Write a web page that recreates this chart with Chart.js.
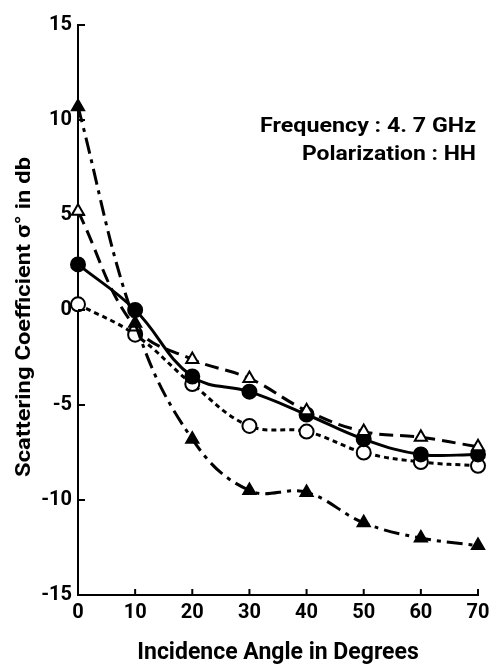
<!DOCTYPE html>
<html>
<head>
<meta charset="utf-8">
<script src="https://cdn.jsdelivr.net/npm/chart.js@4"></script>
<style>
  html, body { margin: 0; padding: 0; background: #fff; }
  #wrap { width: 489px; height: 672px; }
</style>
</head>
<body>
<div id="wrap"><canvas id="myChart" width="489" height="672"></canvas></div>
<script>
// values
const angles = [0, 10, 20, 30, 40, 50, 60, 70];
const filledTriangle = [10.7, -0.7, -6.8, -9.5, -9.6, -11.2, -12.0, -12.4];
const openTriangle = [5.2, -0.9, -2.6, -3.6, -5.3, -6.4, -6.7, -7.2];
const filledCircle = [2.4, 0.0, -3.5, -4.3, -5.5, -6.8, -7.6, -7.6];
const openCircle = [0.3, -1.3, -3.9, -6.1, -6.4, -7.5, -8.0, -8.2];
const yTicks = [15, 10, 5, 0, -5, -10, -15];
const infoLines = ['Frequency : 4. 7 GHz', 'Polarization : HH'];
const yTitle = 'Scattering Coefficient σ° in db';

const FONT = "Roboto, 'Liberation Sans', sans-serif";

function toPoints(arr) {
    return angles.map((a, i) => ({x: a, y: arr[i]}));
}

function series(label, arr, style, dash, fill) {
    return {
        label: label,
        data: toPoints(arr),
        borderColor: '#000',
        borderWidth: 3,
        borderDash: dash,
        pointStyle: style,
        pointRadius: 7,
        pointBorderWidth: 2,
        pointBackgroundColor: fill,
        pointBorderColor: '#000',
        tension: 0.4,
        clip: false,
        fill: false
    };
}

// draw text squeezed/stretched to a given width (the original type is condensed)
function fitText(ctx, text, x, y, width) {
    const w = ctx.measureText(text).width;
    ctx.save();
    ctx.translate(x, y);
    ctx.scale(width / w, 1);
    ctx.fillText(text, 0, 0);
    ctx.restore();
}

// inner ticks + rotated y title + frequency note
const extras = {
    id: 'extras',
    afterDraw(chart) {
        const ctx = chart.ctx;
        const xs = chart.scales.x, ys = chart.scales.y;
        ctx.save();
        ctx.strokeStyle = '#000';
        ctx.lineWidth = 2;
        // small ticks pointing into the plot
        yTicks.forEach(v => {
            const py = ys.getPixelForValue(v);
            ctx.beginPath();
            ctx.moveTo(xs.left, py);
            ctx.lineTo(xs.left + 7, py);
            ctx.stroke();
        });
        angles.forEach(v => {
            if (v === 0) return;
            const px = xs.getPixelForValue(v);
            ctx.beginPath();
            ctx.moveTo(px, ys.bottom);
            ctx.lineTo(px, ys.bottom - 6);
            ctx.stroke();
        });

        ctx.fillStyle = '#000';
        ctx.font = 'bold 20px ' + FONT;
        ctx.textAlign = 'right';
        ctx.textBaseline = 'middle';
        fitText(ctx, infoLines[0], 476, 127, 216);
        fitText(ctx, infoLines[1], 476, 155, 174);

        ctx.translate(25, 317);
        ctx.rotate(-Math.PI / 2);
        ctx.textAlign = 'center';
        ctx.font = 'bold 20px ' + FONT;
        fitText(ctx, yTitle, 0, 0, 320);
        ctx.restore();
    }
};

new Chart(document.getElementById('myChart'), {
    type: 'line',
    data: {
        datasets: [
            series('filled triangle', filledTriangle, 'triangle', [16, 6, 4, 6], '#000'),
            series('open triangle', openTriangle, 'triangle', [14, 7], '#fff'),
            series('filled circle', filledCircle, 'circle', [], '#000'),
            series('open circle', openCircle, 'circle', [5, 4], '#fff')
        ]
    },
    options: {
        responsive: false,
        animation: false,
        layout: { padding: { top: 25, right: 11, left: 0, bottom: 0 } },
        plugins: {
            legend: { display: false },
            tooltip: { enabled: false }
        },
        scales: {
            x: {
                type: 'linear',
                min: 0,
                max: 70,
                afterFit: scale => {
                    scale.height = 77;
                    scale.paddingLeft = 0;
                    scale.paddingRight = 0;
                },
                afterBuildTicks: scale => { scale.ticks = angles.map(v => ({value: v})); },
                grid: { display: false, drawTicks: false },
                border: { color: '#000', width: 2 },
                ticks: {
                    color: '#000',
                    padding: 6,
                    maxRotation: 0,
                    font: { family: FONT, size: 20, weight: 'bold' }
                },
                title: {
                    display: true,
                    text: 'Incidence Angle in Degrees',
                    color: '#000',
                    padding: { top: 6, bottom: 5 },
                    font: { family: FONT, size: 23, weight: 'bold' }
                }
            },
            y: {
                type: 'linear',
                min: -15,
                max: 15,
                afterFit: scale => {
                    scale.width = 78;
                    scale.paddingTop = 0;
                    scale.paddingBottom = 0;
                },
                afterBuildTicks: scale => { scale.ticks = yTicks.map(v => ({value: v})); },
                grid: { display: false, drawTicks: false },
                border: { color: '#000', width: 2 },
                ticks: {
                    color: '#000',
                    padding: 6,
                    font: { family: FONT, size: 20, weight: 'bold' }
                }
            }
        }
    },
    plugins: [extras]
});
</script>
</body>
</html>
